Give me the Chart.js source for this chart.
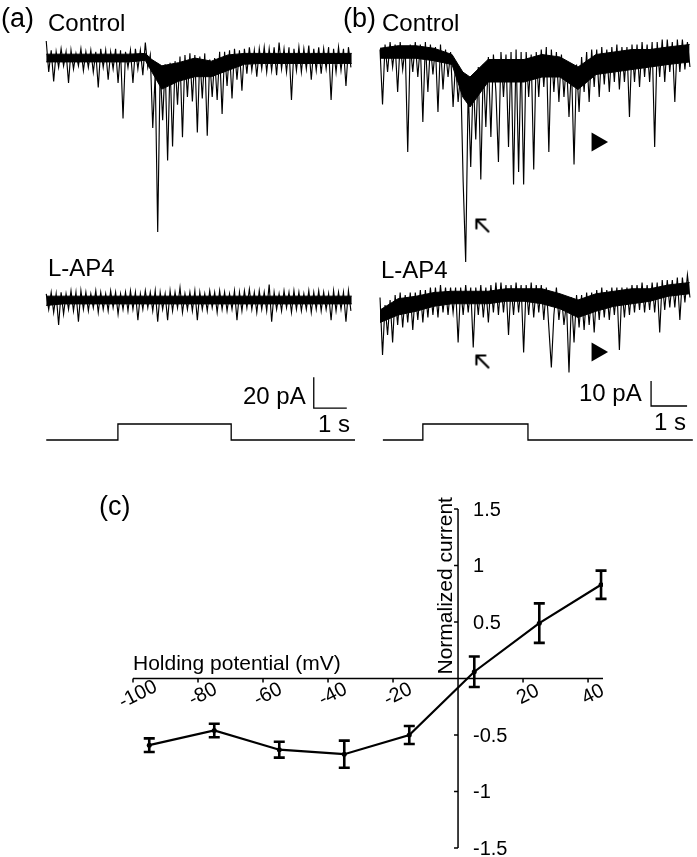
<!DOCTYPE html>
<html>
<head>
<meta charset="utf-8">
<script src="https://cdn.jsdelivr.net/npm/chart.js@4.4.1/dist/chart.umd.min.js"></script>
<style>
  body { margin: 0; background: #fff; }
  #fig { position: relative; width: 697px; height: 857px; overflow: hidden;
         font-family: "Liberation Sans", Arial, sans-serif; color: #000; }
  #fig canvas { position: absolute; }
  .lbl { position: absolute; line-height: 1; white-space: nowrap; }
</style>
</head>
<body>
<div id="fig">
  <canvas id="chartA" width="360" height="470" style="left:0;top:0"></canvas>
  <canvas id="chartB" width="337" height="470" style="left:360px;top:0"></canvas>
  <canvas id="chartC" width="697" height="367" style="left:0;top:490px"></canvas>

  <div class="lbl" style="left:1px;top:5px;font-size:27px">(a)</div>
  <div class="lbl" style="left:48px;top:11px;font-size:24px">Control</div>
  <div class="lbl" style="left:48px;top:256px;font-size:24px">L-AP4</div>
  <div class="lbl" style="left:243px;top:384px;font-size:24px">20 pA</div>
  <div class="lbl" style="left:318px;top:412px;font-size:24px">1 s</div>

  <div class="lbl" style="left:343px;top:5px;font-size:27px">(b)</div>
  <div class="lbl" style="left:382px;top:11px;font-size:24px">Control</div>
  <div class="lbl" style="left:381px;top:258px;font-size:24px">L-AP4</div>
  <div class="lbl" style="left:579px;top:381px;font-size:24px">10 pA</div>
  <div class="lbl" style="left:654px;top:410px;font-size:24px">1 s</div>

  <div class="lbl" style="left:99px;top:493px;font-size:27px">(c)</div>
</div>

<script>
// ---- traces (pA relative to each trace's resting level), sampled every dt seconds
const dtA = 0.075;
const dtB = 0.07;

const controlA = [
  11, -9, 5, -15, 4, -6, 6, -5, 4, -16, 5, -7, 3, -5, 6, -8, 4, -6, 5, -9,
  4, -19, 6, -6, 5, -14, 4, -7, 6, -16, 5, -39, 4, -6, 5, -16, 6, -7, 5, -11,
  10, -6, 2, -45, -10, -112, -6, -40, -4, -66, -3, -57, -2, -30, 1, -51, 2, -25, 3, -28,
  2, -48, 1, -26, 3, -50, -1, -25, 0, -27, 4, -36, 4, -18, 5, -26, 6, -14, 5, -21,
  6, -10, 7, -8, 5, -12, 6, -7, 7, -9, 6, -8, 7, -11, 10, -7, 6, -9, 7, -27,
  6, -8, 7, -9, 6, -7, 8, -14, 6, -8, 7, -10, 6, -7, 7, -27, 6, -9, 7, -8,
  6, -18, 7, -6
];

const lap4A = [
  4, -6, 5, -8, 4, -16, 5, -9, 4, -6, 6, -7, 5, -14, 6, -6, 5, -7, 4, -5,
  6, -8, 5, -6, 4, -7, 6, -5, 5, -9, 4, -6, 5, -7, 6, -6, 5, -13, 4, -6,
  6, -5, 5, -7, 6, -14, 5, -6, 4, -13, 6, -7, 5, -5, 8, -8, 4, -6, 5, -7,
  6, -13, 5, -6, 4, -7, 6, -5, 5, -8, 6, -6, 5, -7, 4, -6, 6, -13, 5, -7,
  6, -5, 7, -6, 5, -8, 6, -6, 5, -7, 10, -14, 5, -6, 4, -7, 6, -5, 5, -8,
  6, -6, 5, -7, 4, -6, 6, -8, 5, -6, 6, -7, 5, -6, 4, -13, 6, -7, 5, -6,
  5, -14, 6, -7
];

const controlB = [
  1, -21, 3, -8, 4, -6, 3, -16, 4, -7, 2, -40, 3, -8, 4, -10, 3, -28, 4, -16,
  3, -9, 2, -24, 3, -15, 1, -10, 0, -22, -4, -20, -8, -52, -84, -14, -46, -10, -35, -6,
  -51, -5, -30, -2, -34, -1, -16, -44, 0, -18, -1, -38, 0, -53, 1, -48, 0, -53, 0, -18,
  -1, -47, 0, -18, 1, -14, 2, -40, 1, -16, 0, -20, -1, -18, -4, -26, -6, -45, -5, -24,
  -2, -16, 0, -20, 1, -14, 1, -18, 2, -13, 1, -16, 2, -12, 3, -15, 2, -12, 2, -26,
  3, -12, 3, -14, 4, -10, 3, -12, 4, -38, 4, -10, 5, -12, 5, -8, 4, -20, 5, -8,
  5, -7, 4, -6
];

const lap4B = [
  1, -22, -2, -14, 0, -17, 2, -10, 3, -11, 2, -9, 3, -12, 3, -8, 4, -9, 4, -7,
  5, -6, 5, -7, 6, -5, 5, -6, 5, -5, 5, -17, 5, -6, 6, -5, 5, -19, 5, -6,
  6, -7, 5, -9, 6, -5, 7, -6, 7, -5, 6, -14, 6, -6, 7, -5, 6, -21, 6, -6,
  7, -7, 6, -5, 6, -8, 5, -11, -27, -6, 5, -8, 2, -10, -1, -29, 1, -17, 2, -11,
  2, -12, 3, -10, 3, -13, 4, -8, 5, -7, 4, -8, 5, -6, 5, -20, 5, -7, 5, -6,
  6, -5, 6, -4, 7, -5, 6, -4, 7, -5, 7, -13, 8, -4, 8, -3, 8, -3, 9, -8,
  9, -1, 10, 1
];

// dense core of each noisy trace (pA, same reference as above)
const coreTimesA = [0, 0.5, 1, 1.5, 2, 2.5, 3, 3.2, 3.5, 4, 4.5, 5, 5.5, 6, 6.5, 7, 7.5, 8, 8.5, 9, 9.25];
const controlA_top = [2.5, 2.5, 2.5, 2.5, 2.5, 2.5, 3, -1, -5, -3, 0, -2, 2, 3, 3, 3, 3, 3, 3, 3, 3];
const controlA_bot = [-2.5, -2.5, -2.5, -2.5, -2.5, -2.5, -1.5, -9, -20, -15, -12, -12, -8, -4, -3.5, -3.5, -3.5, -3.5, -3.5, -3.5, -3.5];
const lap4A_top = [2.5, 2.5, 2.5, 2.5, 2.5, 2.5, 2.5, 2.5, 2.5, 2.5, 2.5, 2.5, 2.5, 2.5, 2.5, 2.5, 2.5, 2.5, 2.5, 2.5, 2.5];
const lap4A_bot = [-3.5, -2.5, -2.5, -2.5, -2.5, -2.5, -2.5, -2.5, -2.5, -2.5, -2.5, -2.5, -2.5, -2.5, -2.5, -2.5, -2.5, -2.5, -2.5, -2.5, -2.5];

const coreTimesB = [0, 0.5, 1, 1.5, 2, 2.3, 2.5, 3, 3.5, 4, 4.5, 5, 5.5, 6, 6.5, 7, 7.5, 8, 8.6];
const controlB_top = [1.5, 2.5, 2.5, 1.5, -1, -8, -10, -3, -3, -3, -1, -2, -6, -1, 0, 1, 1, 2, 3];
const controlB_bot = [-2.5, -2.5, -2.5, -3.5, -5, -18, -22, -12, -12, -12, -10, -10, -15, -9, -8, -7, -6, -5, -4];
const lap4B_top = [-4, 0.5, 1.5, 3, 3.5, 3.5, 3.5, 3.5, 4.5, 4.5, 4.5, 2.5, 0, 2.5, 3.5, 4.5, 4.5, 6, 7];
const lap4B_bot = [-9, -6, -4.5, -2.5, -1.5, -1.5, -1.5, -1.5, -0.5, -0.5, -1.5, -3.5, -7, -4.5, -2.5, -1.5, -0.5, 1.5, 2.5];

// stimulus step (on = 1)
const stepA_t = [0, 2.17, 2.17, 5.6, 5.6, 9.35];
const stepB_t = [0.08, 1.19, 1.19, 4.11, 4.11, 8.69];
const stepLevels = [0, 0, 1, 1, 0, 0];

// ---- I-V relation
const ivVoltage = [-95, -75, -55, -35, -15, 5, 25, 44];
const ivCurrent = [-0.59, -0.46, -0.63, -0.67, -0.50, 0.06, 0.49, 0.83];
const ivError = [0.06, 0.06, 0.07, 0.12, 0.08, 0.135, 0.175, 0.125];
const xTicks = [-100, -80, -60, -40, -20, 20, 40];
const yTicks = [1.5, 1, 0.5, -0.5, -1, -1.5];

// ---- layout (offsets on each chart's pA axis)
const offA = { control: -37.4, lap4: -193.3 };
const offB = { control: -20.8, lap4: -120 };

function tracePoints(vals, dt, offset) {
  return vals.map((v, i) => ({ x: i * dt, y: offset + v }));
}

function bandPoints(ts, vals, offset) {
  return ts.map((t, i) => ({ x: t, y: offset + vals[i] }));
}

function stepPoints(ts) {
  return ts.map((t, i) => ({ x: t, y: stepLevels[i] }));
}

// open arrowhead pointing up-left
const arrowImg = document.createElement("canvas");
arrowImg.width = 17; arrowImg.height = 17;
(function () {
  const c = arrowImg.getContext("2d");
  c.strokeStyle = "#000"; c.lineWidth = 2.2; c.lineCap = "round";
  c.beginPath();
  c.moveTo(15, 15); c.lineTo(3, 3);
  c.moveTo(3, 3); c.lineTo(3, 12);
  c.moveTo(3, 3); c.lineTo(12, 3);
  c.stroke();
})();

function lineDs(points, w) {
  return { data: points, borderColor: "#000", borderWidth: w || 1.15, pointRadius: 0, tension: 0, fill: false };
}

function traceChart(id, opts) {
  const ds = [
    lineDs(tracePoints(opts.control, opts.dt, opts.off.control)),
    lineDs(tracePoints(opts.lap4, opts.dt, opts.off.lap4)),
    Object.assign(lineDs(stepPoints(opts.step), 1.3), { yAxisID: "ys" }),
    lineDs(opts.bar, 1.3)
  ];
  // filled cores: top line then bottom line filled up to it
  opts.cores.forEach(c => {
    ds.push(lineDs(bandPoints(c.t, c.top, c.off), 1));
    ds.push(Object.assign(lineDs(bandPoints(c.t, c.bot, c.off), 1),
      { fill: "-1", backgroundColor: "#000" }));
  });
  if (opts.markers) {
    ds.push({
      type: "scatter",
      data: opts.markers.tri,
      pointStyle: "triangle", rotation: 90, pointRadius: 11,
      backgroundColor: "#000", borderColor: "#000", borderWidth: 0
    });
    ds.push({
      type: "scatter",
      data: opts.markers.arrow,
      pointStyle: arrowImg
    });
  }
  return new Chart(document.getElementById(id), {
    type: "line",
    data: { datasets: ds },
    options: {
      responsive: false, animation: false,
      layout: { padding: 0, autoPadding: false },
      plugins: { legend: { display: false }, tooltip: { enabled: false } },
      scales: {
        x: { type: "linear", display: false, min: opts.xmin, max: opts.xmax },
        y: { display: false, min: opts.ymin, max: 0 },
        ys: { display: false, min: -1.875, max: 27.5 }
      }
    }
  });
}

traceChart("chartA", {
  control: controlA, lap4: lap4A, dt: dtA, off: offA, step: stepA_t,
  cores: [
    { t: coreTimesA, top: controlA_top, bot: controlA_bot, off: offA.control },
    { t: coreTimesA, top: lap4A_top, bot: lap4A_bot, off: offA.lap4 }
  ],
  xmin: -1.4, xmax: 9.5, ymin: -302.8,
  bar: [{ x: 8.1, y: -243 }, { x: 8.1, y: -263 }, { x: 9.1, y: -263 }]
});

traceChart("chartB", {
  control: controlB, lap4: lap4B, dt: dtB, off: offB, step: stepB_t,
  cores: [
    { t: coreTimesB, top: controlB_top, bot: controlB_bot, off: offB.control },
    { t: coreTimesB, top: lap4B_top, bot: lap4B_bot, off: offB.lap4 }
  ],
  xmin: -0.556, xmax: 8.806, ymin: -188,
  bar: [{ x: 7.53, y: -152.4 }, { x: 7.53, y: -162.4 }, { x: 8.53, y: -162.4 }],
  markers: {
    tri: [{ x: 6.03, y: -56.8 }, { x: 6.03, y: -140.8 }],
    arrow: [{ x: 2.83, y: -90 }, { x: 2.83, y: -144.4 }]
  }
});

// ---- panel (c): axes cross at the origin, drawn from the chart's scales
const ivAxes = {
  id: "ivAxes",
  afterDatasetsDraw(chart) {
    const { ctx, scales: { x, y } } = chart;
    const x0 = x.getPixelForValue(0), y0 = y.getPixelForValue(0);
    const font = '20px "Liberation Sans", Arial, sans-serif';
    ctx.save();
    ctx.strokeStyle = "#000"; ctx.fillStyle = "#000";

    // error bars
    ctx.lineWidth = 2.6;
    ivVoltage.forEach((v, i) => {
      const px = x.getPixelForValue(v);
      const top = y.getPixelForValue(ivCurrent[i] + ivError[i]);
      const bot = y.getPixelForValue(ivCurrent[i] - ivError[i]);
      ctx.beginPath();
      ctx.moveTo(px, top); ctx.lineTo(px, bot);
      ctx.moveTo(px - 5.5, top); ctx.lineTo(px + 5.5, top);
      ctx.moveTo(px - 5.5, bot); ctx.lineTo(px + 5.5, bot);
      ctx.stroke();
    });

    // axes
    ctx.lineWidth = 1.5;
    ctx.beginPath();
    ctx.moveTo(x.getPixelForValue(x.min), y0); ctx.lineTo(x.getPixelForValue(x.max), y0);
    ctx.moveTo(x0, y.getPixelForValue(y.max)); ctx.lineTo(x0, y.getPixelForValue(y.min));
    xTicks.forEach(t => {
      const px = x.getPixelForValue(t);
      ctx.moveTo(px, y0); ctx.lineTo(px, y0 + 4);
    });
    yTicks.forEach(t => {
      const py = y.getPixelForValue(t);
      ctx.moveTo(x0, py); ctx.lineTo(x0 - 4, py);
    });
    ctx.stroke();

    ctx.font = font;
    ctx.textAlign = "center"; ctx.textBaseline = "middle";
    xTicks.forEach(t => {
      ctx.save();
      ctx.translate(x.getPixelForValue(t) + 5, y0 + 16);
      ctx.rotate(-27 * Math.PI / 180);
      ctx.fillText(String(t), 0, 0);
      ctx.restore();
    });
    ctx.textAlign = "left";
    yTicks.forEach(t => {
      ctx.fillText(String(t), x0 + 15, y.getPixelForValue(t) + 1);
    });

    // axis titles
    ctx.font = '21px "Liberation Sans", Arial, sans-serif';
    ctx.textBaseline = "alphabetic";
    ctx.fillText("Holding potential (mV)", x.getPixelForValue(x.min), y0 - 9);
    ctx.translate(x0 - 6, y0 - 4);
    ctx.rotate(-Math.PI / 2);
    ctx.fillText("Normalized current", 0, 0);
    ctx.restore();
  }
};

new Chart(document.getElementById("chartC"), {
  type: "scatter",
  data: {
    datasets: [{
      data: ivVoltage.map((v, i) => ({ x: v, y: ivCurrent[i] })),
      showLine: true, borderColor: "#000", borderWidth: 2.2,
      pointRadius: 2.5, pointBackgroundColor: "#000", pointBorderWidth: 0
    }]
  },
  options: {
    responsive: false, animation: false,
    layout: { padding: { left: 133, right: 94, top: 19, bottom: 9 }, autoPadding: false },
    plugins: { legend: { display: false }, tooltip: { enabled: false } },
    scales: {
      x: { type: "linear", display: false, min: -100, max: 44.6 },
      y: { display: false, min: -1.5, max: 1.5 }
    }
  },
  plugins: [ivAxes]
});
</script>
</body>
</html>
